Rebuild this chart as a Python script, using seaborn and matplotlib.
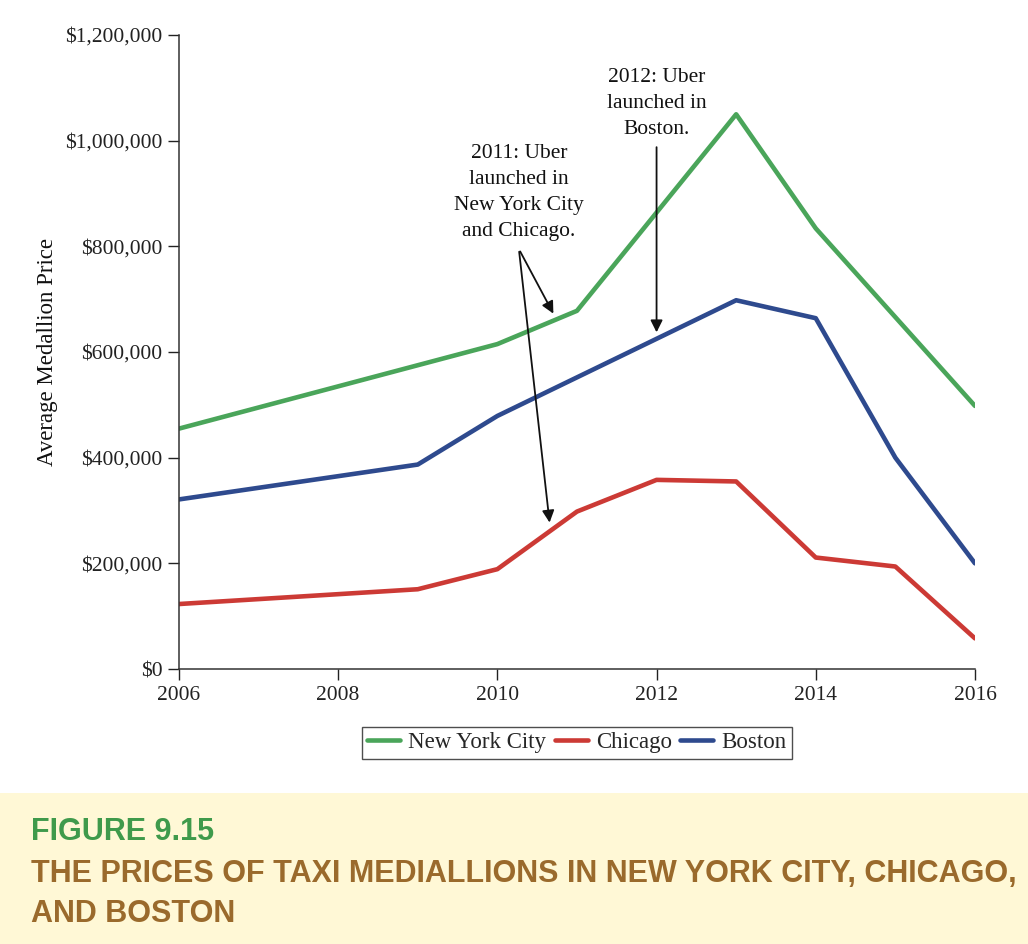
import numpy as np
import pandas as pd
import seaborn as sns
import matplotlib.pyplot as plt
from matplotlib.ticker import FuncFormatter

# values (turning points of each line)
nyc_years = [2006, 2010, 2011, 2013, 2014, 2016]
nyc_price = [455000, 615000, 678000, 1050000, 834000, 498000]

chi_years = [2006, 2009, 2010, 2011, 2012, 2013, 2014, 2015, 2016]
chi_price = [123000, 151000, 189000, 298000, 358000, 355000, 211000, 194000, 58000]

bos_years = [2006, 2009, 2010, 2013, 2014, 2015, 2016]
bos_price = [321000, 387000, 479000, 698000, 664000, 400000, 200000]

cities = ['New York City', 'Chicago', 'Boston']
colors = ['#4aa55a', '#cc3a35', '#2e4a8e']

df = pd.concat([
    pd.DataFrame({'year': nyc_years, 'price': nyc_price, 'city': 'New York City'}),
    pd.DataFrame({'year': chi_years, 'price': chi_price, 'city': 'Chicago'}),
    pd.DataFrame({'year': bos_years, 'price': bos_price, 'city': 'Boston'}),
])

sns.set_theme(style='ticks')
plt.rcParams['font.family'] = ['Liberation Serif', 'DejaVu Serif']

fig = plt.figure(figsize=(10.28, 9.44), dpi=100)
ax = fig.add_axes([0.1741, 0.2913, 0.7743, 0.6716])

sns.lineplot(data=df, x='year', y='price', hue='city', hue_order=cities,
             palette=colors, linewidth=3.3, ax=ax, legend=True, sort=True)

ax.set_xlim(2006, 2016)
ax.set_ylim(0, 1200000)
ax.set_xticks(range(2006, 2017, 2))
ax.set_yticks(range(0, 1200001, 200000))
ax.yaxis.set_major_formatter(FuncFormatter(lambda v, p: '${:,.0f}'.format(v)))
ax.tick_params(axis='both', direction='out', length=8, width=1, labelsize=15.5,
               colors='#222222', pad=4)
ax.set_xlabel('')
ax.set_ylabel('Average Medallion Price', fontsize=16.5, labelpad=5, color='#111111')
for s in ['top', 'right']:
    ax.spines[s].set_visible(False)
for s in ['left', 'bottom']:
    ax.spines[s].set_color('#333333')
    ax.spines[s].set_linewidth(1.1)

handles, labels = ax.get_legend_handles_labels()
ax.legend_.remove()
leg = fig.legend(handles, labels, loc='center', bbox_to_anchor=(0.561, 0.213),
                 ncol=3, fontsize=16.5, frameon=True, fancybox=False,
                 handlelength=1.45, handletextpad=0.35, columnspacing=0.35,
                 borderpad=0.25, borderaxespad=0)
leg.get_frame().set_edgecolor('#222222')
leg.get_frame().set_linewidth(1.0)

# annotations
arrow = dict(arrowstyle='-|>', color='#111111', lw=1.3, mutation_scale=18)
ax.text(2010.27, 993000, '2011: Uber\nlaunched in\nNew York City\nand Chicago.',
        ha='center', va='top', fontsize=15.5, linespacing=1.5, color='#111111')
ax.annotate('', xy=(2010.72, 668000), xytext=(2010.27, 795000), arrowprops=arrow)
ax.annotate('', xy=(2010.66, 272000), xytext=(2010.27, 795000), arrowprops=arrow)
ax.text(2012.0, 1137000, '2012: Uber\nlaunched in\nBoston.',
        ha='center', va='top', fontsize=15.5, linespacing=1.5, color='#111111')
ax.annotate('', xy=(2012.0, 632000), xytext=(2012.0, 993000), arrowprops=arrow)

# caption band
band = fig.add_axes([0, 0, 1, 0.16])
band.set_facecolor('#fff8d6')
band.set_xticks([])
band.set_yticks([])
for s in band.spines.values():
    s.set_visible(False)
cap_font = ['Liberation Sans Narrow', 'Liberation Sans', 'DejaVu Sans']
fig.text(0.03, 1 - 832 / 944, 'FIGURE 9.15', color='#3f9a4b', fontsize=22,
         fontweight='bold', family=cap_font, va='center', ha='left')
fig.text(0.03, 1 - 874 / 944, 'THE PRICES OF TAXI MEDIALLIONS IN NEW YORK CITY, CHICAGO,',
         color='#9a6a2c', fontsize=22, fontweight='bold', family=cap_font,
         va='center', ha='left')
fig.text(0.03, 1 - 914 / 944, 'AND BOSTON', color='#9a6a2c', fontsize=22,
         fontweight='bold', family=cap_font, va='center', ha='left')

fig.savefig('out.png', dpi=100)
